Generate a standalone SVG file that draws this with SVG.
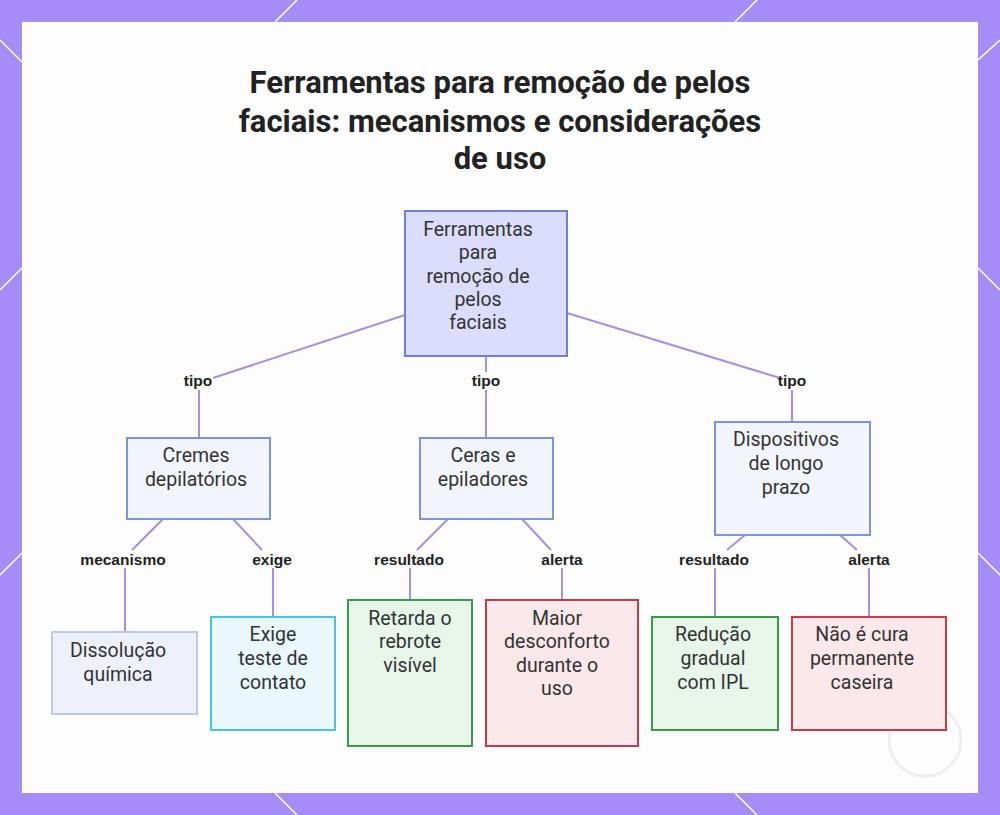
<svg xmlns="http://www.w3.org/2000/svg" width="1000" height="815" viewBox="0 0 1000 815">
<style>
.n text{font-family:Roboto,"Liberation Sans",sans-serif;font-size:19.5px;fill:#333;text-anchor:middle}
.lbl{font-family:"Liberation Sans",Arial,sans-serif;font-size:15.5px;font-weight:bold;fill:#222;text-anchor:middle}
.e{stroke:#a88ee8;stroke-width:2;fill:none}
.deco{stroke:#fff;stroke-width:1.5}
</style>
<rect width="1000" height="815" fill="#a68cf6"/>
<g class="deco">
<line x1="275" y1="22" x2="297" y2="0"/><line x1="735" y1="22" x2="757" y2="0"/>
<line x1="0" y1="40" x2="22" y2="62"/><line x1="0" y1="290" x2="22" y2="268"/>
<line x1="978" y1="268" x2="1000" y2="290"/><line x1="978" y1="60" x2="1000" y2="40"/>
<line x1="0" y1="575" x2="22" y2="553"/><line x1="978" y1="553" x2="1000" y2="575"/>
<line x1="275" y1="793" x2="297" y2="815"/><line x1="735" y1="793" x2="757" y2="815"/>
</g>
<rect x="22" y="22" width="956" height="771" fill="#fdfdfd"/>
<circle cx="925" cy="740" r="36" fill="none" stroke="#eee" stroke-width="3"/>
<g font-family="Roboto,'Liberation Sans',sans-serif" font-size="31" font-weight="bold" fill="#222" text-anchor="middle">
<text x="500" y="93">Ferramentas para remoção de pelos</text>
<text x="500" y="132">faciais: mecanismos e considerações</text>
<text x="500" y="169">de uso</text>
</g>
<g id="connectors">
<path class="e" d="M405,315 L213,378 M199,390 V438"/>
<path class="e" d="M486,356 V372 M486,390 V438"/>
<path class="e" d="M567,313 L780,378 M792,390 V422"/>
<path class="e" d="M163,519 L132,550 M125,568 V632"/>
<path class="e" d="M233,519 L262,550 M273,568 V617"/>
<path class="e" d="M448,519 L417,550 M410,568 V600"/>
<path class="e" d="M522,519 L551,550 M562,568 V600"/>
<path class="e" d="M745,535 L727,550 M715,568 V617"/>
<path class="e" d="M840,535 L857,550 M869,568 V617"/>
<text class="lbl" x="198" y="386">tipo</text>
<text class="lbl" x="486" y="386">tipo</text>
<text class="lbl" x="792" y="386">tipo</text>
<text class="lbl" x="123" y="565">mecanismo</text>
<text class="lbl" x="272" y="565">exige</text>
<text class="lbl" x="409" y="565">resultado</text>
<text class="lbl" x="562" y="565">alerta</text>
<text class="lbl" x="714" y="565">resultado</text>
<text class="lbl" x="869" y="565">alerta</text>
</g>
<g id="root" class="n"><rect x="405" y="211" width="162" height="145" fill="#dcdcfc" stroke="#6f7fd8" stroke-width="2"/>
<text x="478" y="236">Ferramentas</text><text x="478" y="259">para</text><text x="478" y="283">remoção de</text><text x="478" y="306">pelos</text><text x="478" y="329">faciais</text></g>
<g id="cremes" class="n"><rect x="127" y="438" width="143" height="81" fill="#f3f5fd" stroke="#7b93e0" stroke-width="2"/>
<text x="196" y="462">Cremes</text><text x="196" y="486">depilatórios</text></g>
<g id="ceras" class="n"><rect x="420" y="438" width="133" height="81" fill="#f3f5fd" stroke="#7b93e0" stroke-width="2"/>
<text x="483" y="462">Ceras e</text><text x="483" y="486">epiladores</text></g>
<g id="disp" class="n"><rect x="715" y="422" width="155" height="113" fill="#f3f5fd" stroke="#7b93e0" stroke-width="2"/>
<text x="786" y="446">Dispositivos</text><text x="786" y="470">de longo</text><text x="786" y="494">prazo</text></g>
<g id="dissol" class="n"><rect x="52" y="632" width="145" height="82" fill="#eef0fc" stroke="#c0c8f0" stroke-width="2"/>
<text x="118" y="657">Dissolução</text><text x="118" y="681">química</text></g>
<g id="exige" class="n"><rect x="211" y="617" width="124" height="113" fill="#eaf7fd" stroke="#4cc4e0" stroke-width="2"/>
<text x="273" y="641">Exige</text><text x="273" y="665">teste de</text><text x="273" y="689">contato</text></g>
<g id="retarda" class="n"><rect x="348" y="600" width="124" height="146" fill="#e8f5e9" stroke="#3a9a4a" stroke-width="2"/>
<text x="410" y="625">Retarda o</text><text x="410" y="648">rebrote</text><text x="410" y="672">visível</text></g>
<g id="maior" class="n"><rect x="486" y="600" width="152" height="146" fill="#fbe8ea" stroke="#c83a4a" stroke-width="2"/>
<text x="557" y="625">Maior</text><text x="557" y="648">desconforto</text><text x="557" y="672">durante o</text><text x="557" y="695">uso</text></g>
<g id="reducao" class="n"><rect x="652" y="617" width="126" height="113" fill="#e8f5e9" stroke="#3a9a4a" stroke-width="2"/>
<text x="713" y="641">Redução</text><text x="713" y="665">gradual</text><text x="713" y="689">com IPL</text></g>
<g id="nao" class="n"><rect x="792" y="617" width="154" height="113" fill="#fbe8ea" stroke="#c83a4a" stroke-width="2"/>
<text x="862" y="641">Não é cura</text><text x="862" y="665">permanente</text><text x="862" y="689">caseira</text></g>
</svg>
